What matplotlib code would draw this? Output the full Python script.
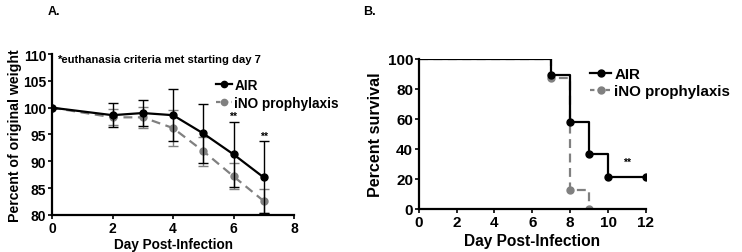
import matplotlib.pyplot as plt
from matplotlib.lines import Line2D
import numpy as np

plt.rcParams['font.family'] = ['Liberation Sans', 'DejaVu Sans']
plt.rcParams['font.weight'] = 'bold'

# Panel A: weight
days = [0, 2, 3, 4, 5, 6, 7]
air_weight = [100, 98.6, 99.0, 98.6, 95.2, 91.3, 87.0]
air_err = [0, 2.2, 2.4, 4.8, 5.5, 6.1, 6.7]
ino_weight = [100, 98.2, 98.2, 96.2, 91.9, 87.2, 82.6]
ino_err = [0, 1.5, 1.9, 3.3, 2.7, 2.4, 2.2]
star_days_a = [6, 7]

# Panel B: survival
air_t = [0, 7, 8, 9, 10, 12]
air_surv = [100, 89.5, 57.9, 36.8, 21.1, 21.1]
ino_t = [0, 7, 8, 9]
ino_surv = [100, 87.5, 12.5, 0]

grey = '#808080'
W, H = 742, 253
fig = plt.figure(figsize=(W / 100, H / 100), dpi=100)

axA = fig.add_axes([52 / W, 1 - 216 / H, 242 / W, 161 / H])
axB = fig.add_axes([418.7 / W, 1 - 210 / H, 227.3 / W, 150 / H])

for ax, fs in ((axA, 10), (axB, 11)):
    for s in ('top', 'right'):
        ax.spines[s].set_visible(False)
    for s in ('left', 'bottom'):
        ax.spines[s].set_linewidth(1.6)
    ax.tick_params(width=1.2, length=3, labelsize=fs, pad=1)

# --- A ---
axA.errorbar(days, ino_weight, yerr=ino_err, color=grey, ls='--', lw=1.6,
             marker='o', ms=5, capsize=3.5, elinewidth=1.0, capthick=1.0,
             dashes=(4, 2.5), zorder=2)
axA.errorbar(days, air_weight, yerr=air_err, color='black', ls='-', lw=1.6,
             marker='o', ms=5, capsize=3.5, elinewidth=1.0, capthick=1.0, zorder=3)
for d in star_days_a:
    i = days.index(d)
    axA.text(d, air_weight[i] + air_err[i] + 0.2, '**', ha='center', va='bottom',
             fontsize=7.5, fontweight='bold')
axA.set_xlim(0, 8)
axA.set_ylim(80, 110)
axA.set_xticks([0, 2, 4, 6, 8])
axA.set_yticks([80, 85, 90, 95, 100, 105, 110])
axA.set_xlabel('Day Post-Infection', fontsize=9.8, fontweight='bold', labelpad=2)
axA.set_ylabel('Percent of original weight', fontsize=10.2, fontweight='bold', labelpad=1)
axA.text(0.15, 109.0, '*euthanasia criteria met starting day 7', fontsize=8.1,
         fontweight='bold', va='center')

def handles(ms):
    return [Line2D([], [], color='black', lw=1.6, marker='o', ms=ms),
            Line2D([], [], color=grey, lw=1.6, ls='--', marker='o', ms=ms, dashes=(2, 1.5))]

axA.legend(handles(4.5), ['AIR', 'iNO prophylaxis'], loc='center left',
           bbox_to_anchor=(216 / W, 1 - 94.7 / H), bbox_transform=fig.transFigure,
           frameon=False, handlelength=1.15, handletextpad=0.2, labelspacing=0.3,
           borderpad=0, borderaxespad=0, prop={'weight': 'bold', 'size': 9.8})

# --- B ---
axB.step(ino_t, ino_surv, where='post', color=grey, ls='--', lw=1.6, dashes=(4, 2.5), zorder=2)
axB.plot(ino_t[1:], ino_surv[1:], 'o', color=grey, ms=5, zorder=2)
axB.step(air_t, air_surv, where='post', color='black', lw=1.6, zorder=3)
axB.plot(air_t[1:], air_surv[1:], 'o', color='black', ms=5, zorder=3)
axB.text(11, 28, '**', ha='center', va='bottom', fontsize=7.5, fontweight='bold')
axB.set_xlim(0, 12)
axB.set_ylim(0, 100)
axB.set_xticks(np.arange(0, 13, 2))
axB.set_yticks(np.arange(0, 101, 20))
axB.set_xlabel('Day Post-Infection', fontsize=11.2, fontweight='bold', labelpad=3)
axB.set_ylabel('Percent survival', fontsize=11.6, fontweight='bold', labelpad=3)
axB.legend(handles(5), ['AIR', 'iNO prophylaxis'], loc='center left',
           bbox_to_anchor=(590 / W, 1 - 83.4 / H), bbox_transform=fig.transFigure,
           frameon=False, handlelength=1.4, handletextpad=0.2, labelspacing=0.2,
           borderpad=0, borderaxespad=0, prop={'weight': 'bold', 'size': 10.9})

for ax in (axA, axB):
    for lab in ax.get_xticklabels() + ax.get_yticklabels():
        lab.set_fontweight('bold')

fig.text(48 / W, 1 - 12 / H, 'A.', fontsize=9, fontweight='bold', va='center')
fig.text(363 / W, 1 - 12 / H, 'B.', fontsize=9, fontweight='bold', va='center')

fig.savefig('out.png', dpi=100)
